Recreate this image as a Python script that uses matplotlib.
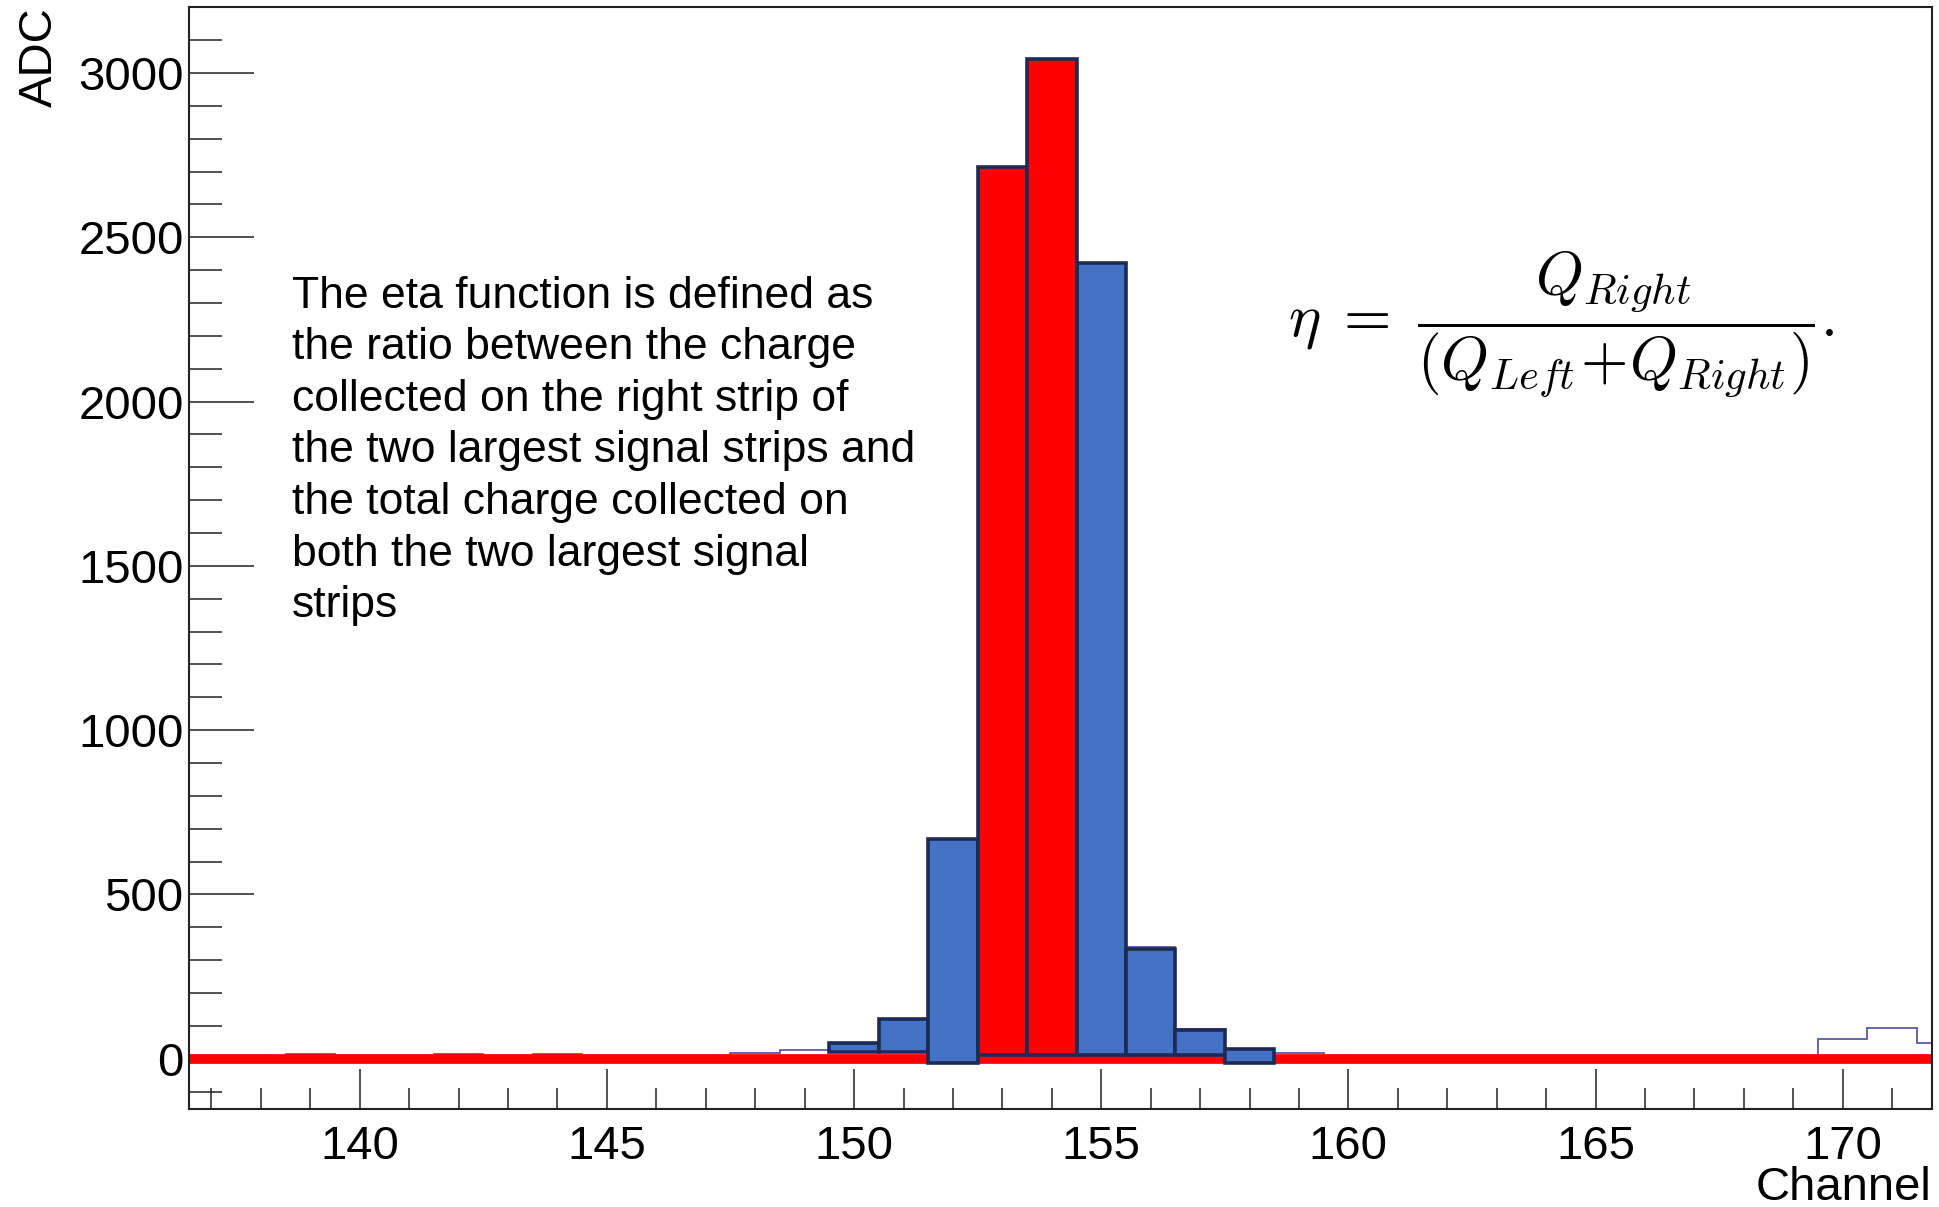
import numpy as np
import matplotlib.pyplot as plt

plt.rcParams['font.family'] = ['Liberation Sans', 'DejaVu Sans']
plt.rcParams['mathtext.fontset'] = 'cm'

# raw strip histogram (thin outline), one bin per channel
channels = np.arange(137, 173)
raw_adc = [0, 0, 15, 0, 0, 15, 0, 15, 0, 0, 0, 16, 26, 47, 120, 670,
           2715, 3042, 2422, 340, 90, 31, 16,
           0, 0, 0, 0, 0, 0, 0, 0, 0, 0,
           60, 93, 48]

# highlighted cluster strips (blue boxes)
blue_ch = [150, 151, 152, 155, 156, 157, 158]
blue_top = [47, 120, 670, 2422, 335, 89, 31]
blue_low = [20, 20, -12, 10, 10, 10, -12]

# the two largest signal strips (red boxes)
red_ch = [153, 154]
red_top = [2715, 3042]
red_low = [10, 10]

note = ("The eta function is defined as\n"
        "the ratio between the charge\n"
        "collected on the right strip of\n"
        "the two largest signal strips and\n"
        "the total charge collected on\n"
        "both the two largest signal\n"
        "strips")
formula = r'$\eta\;=\;\dfrac{Q_{Right}}{(Q_{Left}\!+\!Q_{Right})}.$'

fig = plt.figure(figsize=(19.39, 12.07), dpi=100)
ax = fig.add_axes([0.0976, 0.0809, 0.8986, 0.9130])

edges = np.append(channels - 0.5, channels[-1] + 0.5)
ax.stairs(raw_adc, edges, color='#5a5aa8', linewidth=1.3, zorder=1)
ax.axhline(0, color='#ff0000', linewidth=7, zorder=2)

navy = '#1c2a55'
ax.bar(blue_ch, np.array(blue_top) - np.array(blue_low), bottom=blue_low,
       width=1.0, color='#4472c4', edgecolor=navy, linewidth=2.6, zorder=3)
ax.bar(red_ch, np.array(red_top) - np.array(red_low), bottom=red_low,
       width=1.0, color='#ff0000', edgecolor=navy, linewidth=2.6, zorder=3)

ax.set_xlim(136.55, 171.8)
ax.set_ylim(-154, 3200)

ax.set_xticks(range(140, 171, 5))
ax.set_xticks(range(137, 172), minor=True)
ax.set_yticks(range(0, 3001, 500))
ax.set_yticks(range(-100, 3101, 100), minor=True)

ax.tick_params(which='both', direction='in', top=False, right=False, width=1.1, color='#222222')
ax.tick_params(axis='x', which='major', length=29, labelsize=34, pad=11)
ax.tick_params(axis='x', which='minor', length=15)
ax.tick_params(axis='y', which='major', length=47, labelsize=34, pad=4)
ax.tick_params(axis='y', which='minor', length=24)

for s in ax.spines.values():
    s.set_linewidth(1.5)
    s.set_color('#222222')

ax.set_ylabel('ADC', fontsize=34, loc='top')
ax.yaxis.set_label_coords(-0.073, 1.0)
ax.set_xlabel('Channel', fontsize=34, loc='right')
ax.xaxis.set_label_coords(1.0, -0.051)

ax.text(138.63, 2383, note, fontsize=32, va='top', ha='left', linespacing=1.33, zorder=5)
ax.text(164.3, 2236, formula, fontsize=44, va='center', ha='center', zorder=5)

fig.savefig('out.png', dpi=100)
